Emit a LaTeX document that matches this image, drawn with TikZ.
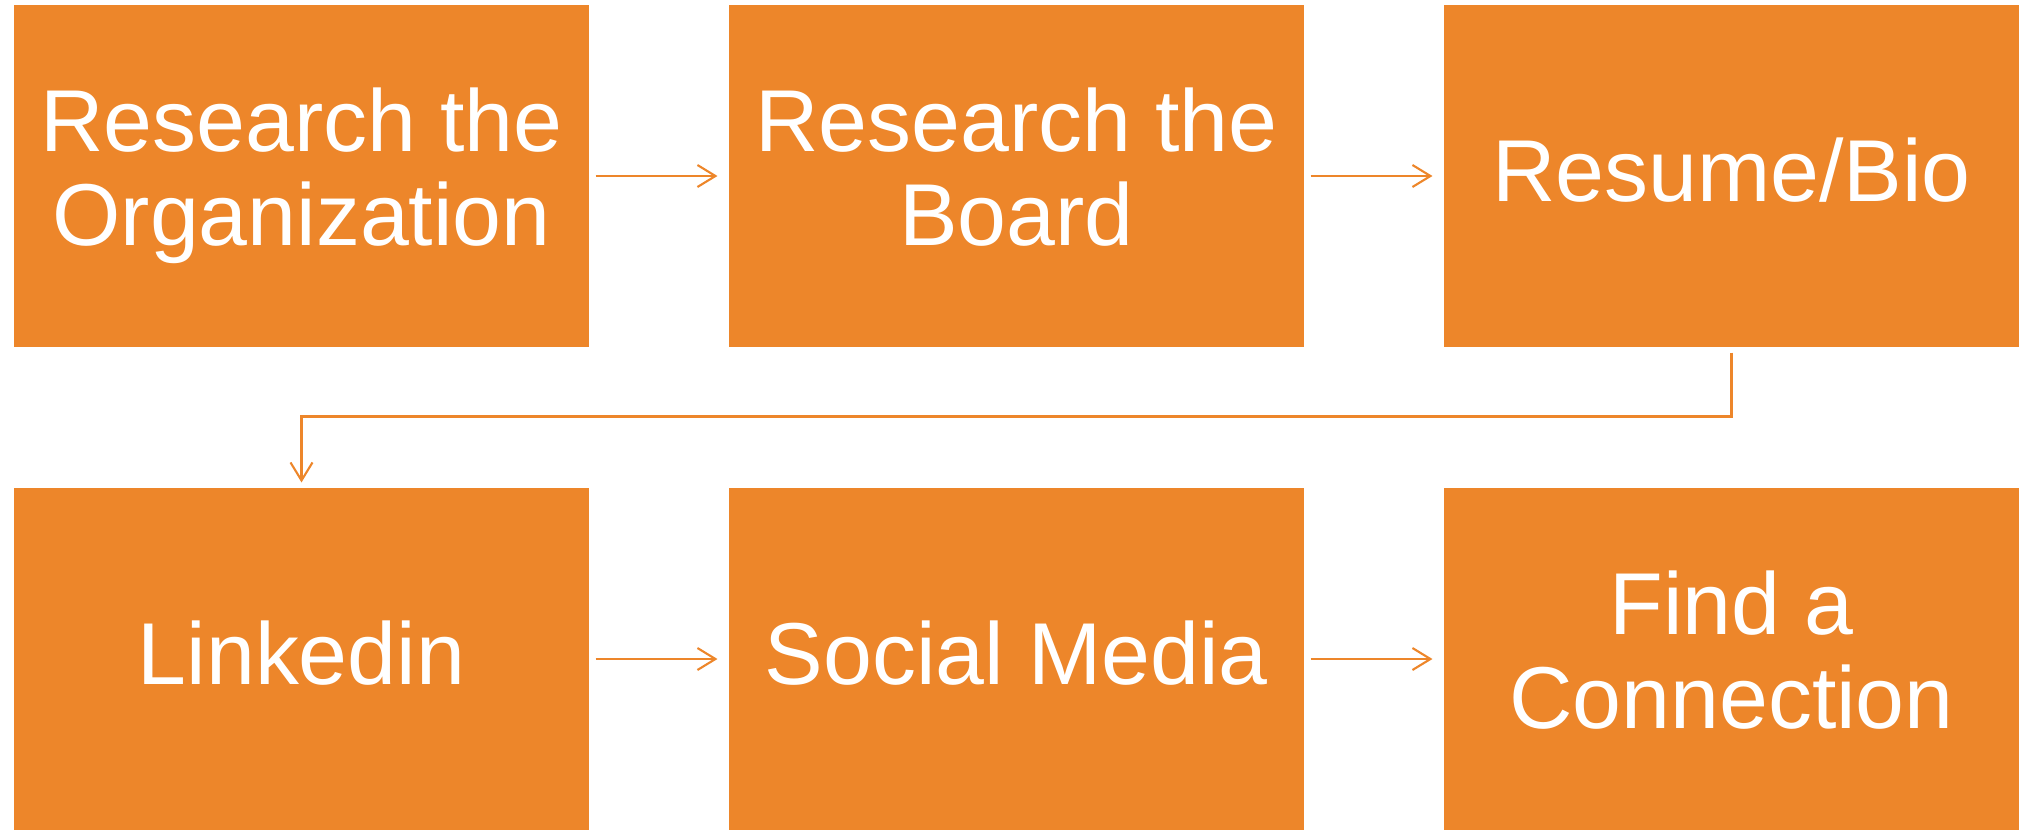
\documentclass[tikz,border=0pt]{standalone}
\usepackage{fontspec}
\setmainfont{Liberation Sans}
\usepackage{tikz}
\usetikzlibrary{arrows,arrows.meta,positioning}
\definecolor{boxorange}{RGB}{237,134,42}

% fixed line height, so one- and two-line labels sit alike
\newcommand{\labelstrut}{\rule[-1.84mm]{0pt}{8.84mm}}

\tikzset{
    stepbox/.style={rectangle, fill=boxorange, draw=white, line width=0.3pt,
        minimum width=5.77cm, minimum height=3.44cm, inner sep=0pt,
        execute at begin node=\labelstrut, execute at end node=\labelstrut,
        text=white, align=center, font=\fontsize{25}{26.9}\selectfont},
    flow/.style={draw=boxorange, line width=0.6pt,
        -{Straight Barb[length=1.8mm,width=2.2mm,line width=0.6pt]},
        shorten <=0.5mm, shorten >=1mm}
}

\begin{document}
\begin{tikzpicture}
    \useasboundingbox (0,0) rectangle (20.2,-8.31);

    % top row
    \node (org) at (3.015, -1.76) [stepbox] {Research the\\Organization};
    \node (brd) at (10.165, -1.76) [stepbox] {Research the\\Board};
    \node (res) at (17.315, -1.76) [stepbox] {Resume/Bio};

    % bottom row
    \node (lnk) at (3.015, -6.59) [stepbox] {Linkedin};
    \node (soc) at (10.165, -6.59) [stepbox] {Social Media};
    \node (fnd) at (17.315, -6.59) [stepbox] {Find a\\Connection};

    \draw [flow] (org) -- (brd);
    \draw [flow] (brd) -- (res);
    \draw [flow, shorten <=0.4mm, shorten >=0.4mm]
        (res.south) -- ++(0,-0.68) -| (lnk.north);
    \draw [flow] (lnk) -- (soc);
    \draw [flow] (soc) -- (fnd);
\end{tikzpicture}
\end{document}
